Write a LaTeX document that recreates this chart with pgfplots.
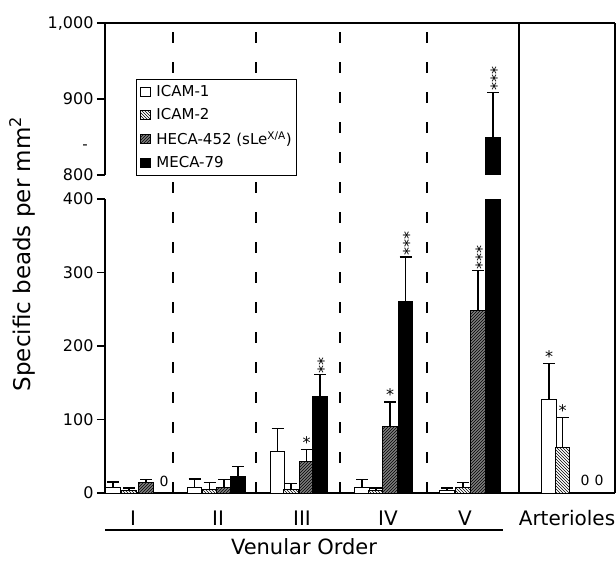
\documentclass[border=0pt]{standalone}
\usepackage{pgfplots}
\pgfplotsset{compat=1.18}
\usepackage{fontspec}
\setmainfont{DejaVu Sans}
\usetikzlibrary{patterns}

\definecolor{hecagray}{RGB}{125,125,125}

% one style for both halves of the broken axis
\pgfplotsset{
  brk/.style={
    scale only axis, width=510pt,
    xmin=105, xmax=615, xtick=\empty,
    axis line style={line width=1.3pt},
    tick style={line width=1.2pt, black},
    tick align=outside, major tick length=8pt,
    ytick pos=left,
    yticklabel style={font=\fontsize{16}{16}\selectfont},
    /pgf/number format/assume math mode=true,
    ybar, bar width=14.5, bar shift=0pt,
    error bars/y dir=plus, error bars/y explicit,
    error bars/error bar style={line width=1.3pt, black},
    error bars/error mark options={rotate=90, line width=1.3pt, black, mark size=6pt},
  },
}
\tikzset{
  icam1/.style={fill=white, draw=black, line width=0.8pt},
  icam2/.style={fill=white, draw=black, line width=0.8pt, postaction={pattern=north west lines}},
  heca/.style={fill=hecagray, draw=black, line width=0.8pt, postaction={pattern=north east lines}},
  meca/.style={fill=black, draw=black, line width=0.8pt},
  stars/.style={rotate=90, anchor=west, inner sep=1pt, font=\fontsize{16}{16}\selectfont},
  star1/.style={anchor=south, inner sep=1pt, font=\fontsize{16}{16}\selectfont},
}

\begin{document}
\begin{tikzpicture}[x=1pt, y=1pt]
  % group separators and frame pieces
  \foreach \xx in {173,256,340,427}
    \draw[line width=1.2pt, dash pattern=on 11pt off 19pt] (\xx,67) -- (\xx,535);
  \draw[line width=1.5pt] (519,67) -- (519,537);
  \draw[line width=1.3pt] (615,67) -- (615,537);

  % lower part, 0 to 400
  \begin{axis}[brk, at={(105pt,67pt)}, anchor=south west, height=294pt,
      ymin=0, ymax=400, ytick={0,100,200,300,400},
      axis x line*=bottom, axis y line*=left]
    \addplot[icam1] coordinates {(113,8) +- (0,7) (194.5,7) +- (0,12) (277.5,56) +- (0,32)
      (362,8) +- (0,10) (447,3) +- (0,4) (549,128) +- (0,48)};
    \addplot[icam2] coordinates {(129,4) +- (0,3) (209.5,5) +- (0,9) (291,5) +- (0,8)
      (376,3) +- (0,4) (463,7) +- (0,7) (562.5,62) +- (0,41)};
    \addplot[heca] coordinates {(146,14) +- (0,4) (224,8) +- (0,10) (306.5,43) +- (0,16)
      (390,90) +- (0,34) (478,248) +- (0,55)};
    \addplot[meca] coordinates {(238,22) +- (0,14) (320,131) +- (0,30)
      (405.5,261) +- (0,60) (493,849) +- (0,60)};
    \node[star1] at (axis cs:306.5,59) {*};
    \node[star1] at (axis cs:390,124) {*};
    \node[star1] at (axis cs:549,176) {*};
    \node[star1] at (axis cs:562.5,103) {*};
    \node[stars] at ([xshift=3.4pt]axis cs:320,161) {**};
    \node[stars] at ([xshift=3.4pt]axis cs:405.5,321) {***};
    \node[stars] at ([xshift=3.4pt]axis cs:478,303) {***};
    \node[anchor=base, font=\fontsize{14}{14}\selectfont] at ([yshift=6pt]axis cs:164,0) {0};
    \node[anchor=base, font=\fontsize{14}{14}\selectfont] at ([yshift=7pt]axis cs:585,0) {0};
    \node[anchor=base, font=\fontsize{14}{14}\selectfont] at ([yshift=7pt]axis cs:599,0) {0};
  \end{axis}

  % upper part, 800 to 1000
  \begin{axis}[brk, at={(105pt,385pt)}, anchor=south west, height=152pt,
      ymin=800, ymax=1000, ytick={800,900,1000},
      axis x line*=top, axis y line*=left,
      legend style={at={(rel axis cs:0.061,0.632)}, anchor=north west,
        draw=black, line width=1pt, fill=white,
        font=\fontsize{15}{15}\selectfont, row sep=6.5pt, column sep=4pt,
        inner xsep=3pt, inner ysep=4pt, cells={anchor=west}},
      legend image code/.code={\draw[#1] (0pt,-4.5pt) rectangle (10pt,4.5pt);}]
    \addplot[meca, forget plot] coordinates {(493,849) +- (0,60)};
    \node[stars] at ([xshift=3.4pt]axis cs:493,909) {***};
    \addlegendimage{icam1}
    \addlegendimage{icam2}
    \addlegendimage{heca}
    \addlegendimage{meca}
    \legend{ICAM-1, ICAM-2, HECA-452 (sLe\textsuperscript{X/A}), MECA-79}
  \end{axis}

  \node[font=\fontsize{15}{15}\selectfont] at (85,413) {-};

  % axis titles and category names
  \node[rotate=90, font=\fontsize{23}{23}\selectfont] at (22,306) {Specific beads per mm\textsuperscript{2}};
  \foreach \xx/\lab in {133/I, 218/II, 302/III, 388/IV, 465/V, 567/Arterioles}
    \node[anchor=base, font=\fontsize{20}{20}\selectfont] at (\xx,35) {\lab};
  \draw[line width=1.2pt] (105,30) -- (503,30);
  \node[anchor=base, font=\fontsize{21}{21}\selectfont] at (304,6) {Venular Order};

  \pgfresetboundingbox
  \useasboundingbox (0,0) rectangle (616,560);
\end{tikzpicture}
\end{document}
